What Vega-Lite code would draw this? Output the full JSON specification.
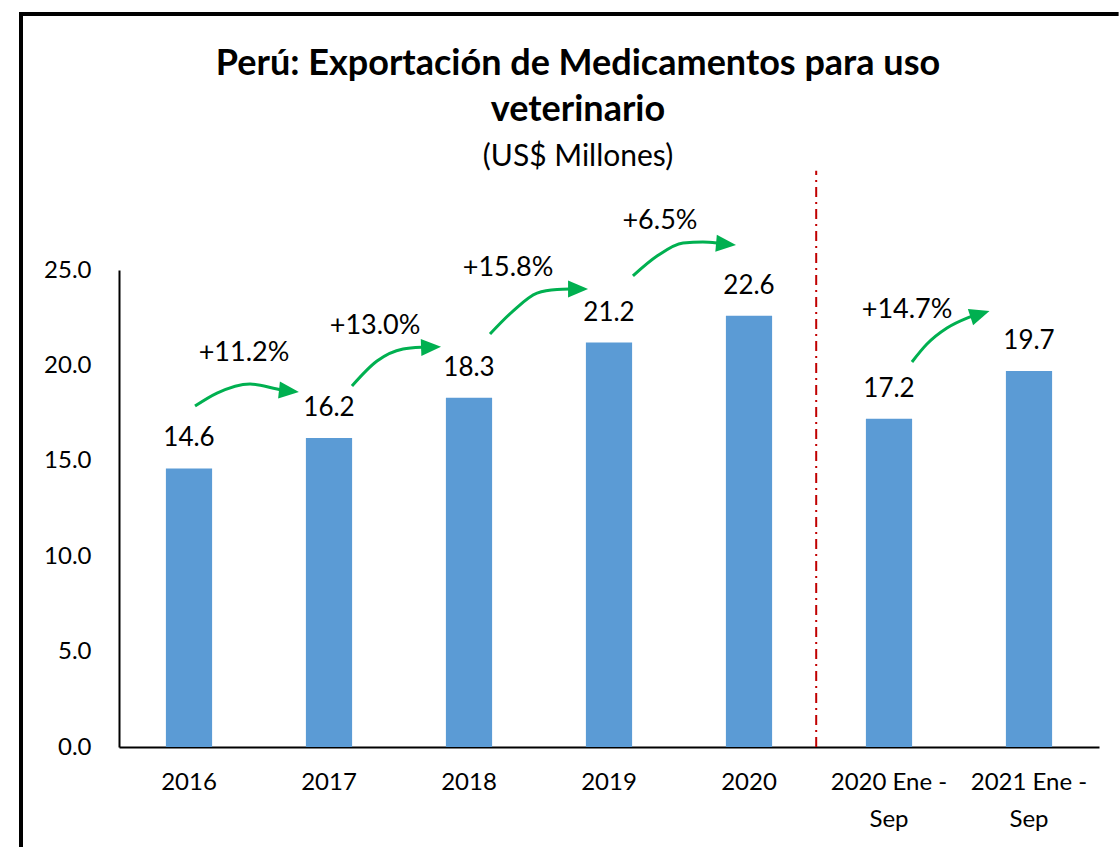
{
  "$schema": "https://vega.github.io/schema/vega-lite/v6.json",
  "width": 980,
  "height": 477,
  "padding": {"left": 19, "top": 9, "right": 0, "bottom": 0},
  "background": "white",
  "title": {
    "text": ["Perú: Exportación de Medicamentos para uso", "veterinario"],
    "subtitle": "(US$ Millones)",
    "font": "Lato",
    "fontSize": 36,
    "fontWeight": "bold",
    "lineHeight": 46,
    "color": "black",
    "subtitleFont": "Lato",
    "subtitleFontSize": 30,
    "subtitleColor": "black",
    "subtitlePadding": 13,
    "anchor": "middle",
    "frame": "group",
    "dx": -31,
    "offset": -163
  },
  "config": {
    "view": {"stroke": null},
    "font": "Lato",
    "text": {"font": "Lato"}
  },
  "datasets": {
    "bars": [
      {"cat": "2016", "value": 14.6},
      {"cat": "2017", "value": 16.2},
      {"cat": "2018", "value": 18.3},
      {"cat": "2019", "value": 21.2},
      {"cat": "2020", "value": 22.6},
      {"cat": "2020 Ene - Sep", "value": 17.2},
      {"cat": "2021 Ene - Sep", "value": 19.7}
    ],
    "arrows": [
      {"id": 1, "i": 1, "x": 0.543, "y": 17.87},
      {"id": 1, "i": 2, "x": 0.700, "y": 18.55},
      {"id": 1, "i": 3, "x": 0.936, "y": 19.03},
      {"id": 1, "i": 4, "x": 1.129, "y": 18.76},
      {"id": 1, "i": 5, "x": 1.171, "y": 18.70},
      {"id": 2, "i": 1, "x": 1.664, "y": 18.92},
      {"id": 2, "i": 2, "x": 1.843, "y": 20.23},
      {"id": 2, "i": 3, "x": 2.029, "y": 20.86},
      {"id": 2, "i": 4, "x": 2.171, "y": 20.96},
      {"id": 2, "i": 5, "x": 2.200, "y": 20.97},
      {"id": 3, "i": 1, "x": 2.650, "y": 21.65},
      {"id": 3, "i": 2, "x": 2.814, "y": 22.85},
      {"id": 3, "i": 3, "x": 2.986, "y": 23.79},
      {"id": 3, "i": 4, "x": 3.129, "y": 23.98},
      {"id": 3, "i": 5, "x": 3.221, "y": 24.00},
      {"id": 4, "i": 1, "x": 3.671, "y": 24.69},
      {"id": 4, "i": 2, "x": 3.843, "y": 25.73},
      {"id": 4, "i": 3, "x": 4.029, "y": 26.42},
      {"id": 4, "i": 4, "x": 4.171, "y": 26.47},
      {"id": 4, "i": 5, "x": 4.271, "y": 26.42},
      {"id": 5, "i": 1, "x": 5.664, "y": 20.18},
      {"id": 5, "i": 2, "x": 5.771, "y": 21.12},
      {"id": 5, "i": 3, "x": 5.914, "y": 21.96},
      {"id": 5, "i": 4, "x": 6.057, "y": 22.48},
      {"id": 5, "i": 5, "x": 6.100, "y": 22.60}
    ],
    "heads": [
      {"x": 1.214, "y": 18.66, "angle": 6},
      {"x": 2.229, "y": 20.96, "angle": -2},
      {"x": 3.279, "y": 24.00, "angle": 0},
      {"x": 4.336, "y": 26.36, "angle": 5},
      {"x": 6.150, "y": 22.69, "angle": -18}
    ],
    "pcts": [
      {"x": 0.893, "y": 20.65, "label": "+11.2%"},
      {"x": 1.829, "y": 22.06, "label": "+13.0%"},
      {"x": 2.779, "y": 25.10, "label": "+15.8%"},
      {"x": 3.864, "y": 27.57, "label": "+6.5%"},
      {"x": 5.629, "y": 22.90, "label": "+14.7%"}
    ],
    "divider": [
      {"x": 4.98, "y": 0, "y2": 30.2}
    ],
    "frame": [
      {"x": -0.7, "x2": 7.14, "y": 38.42, "y2": 38.42},
      {"x": -0.7, "x2": -0.7, "y": 38.525, "y2": -5.25}
    ]
  },
  "layer": [
    {
      "layer": [
        {
          "data": {"name": "bars"},
          "mark": {"type": "bar", "color": "#5B9BD5"},
          "encoding": {
            "x": {
              "field": "cat",
              "type": "nominal",
              "sort": null,
              "scale": {"paddingInner": 0.67, "paddingOuter": 0.335},
              "axis": {
                "title": null,
                "labelAngle": 0,
                "ticks": false,
                "domainColor": "black",
                "domainWidth": 2,
                "labelFont": "Lato",
                "labelFontSize": 24,
                "labelColor": "black",
                "labelPadding": 23,
                "labelLineHeight": 37,
                "labelExpr": "split(replace(datum.label, '- ', '-|'), '|')"
              }
            },
            "y": {
              "field": "value",
              "type": "quantitative",
              "scale": {"domain": [0, 25], "nice": false},
              "axis": {
                "title": null,
                "values": [0, 5, 10, 15, 20, 25],
                "format": ".1f",
                "ticks": false,
                "grid": false,
                "domainColor": "black",
                "domainWidth": 2,
                "labelFont": "Lato",
                "labelFontSize": 24,
                "labelColor": "black",
                "labelPadding": 28
              }
            }
          }
        },
        {
          "data": {"name": "bars"},
          "mark": {"type": "text", "fontSize": 26, "font": "Lato", "color": "black", "baseline": "middle", "dy": -30, "clip": false},
          "encoding": {
            "x": {"field": "cat", "type": "nominal", "sort": null},
            "y": {"field": "value", "type": "quantitative"},
            "text": {"field": "value", "type": "quantitative", "format": ".1f"}
          }
        }
      ]
    },
    {
      "layer": [
        {
          "data": {"name": "frame"},
          "mark": {"type": "rule", "color": "black", "strokeWidth": 4, "clip": false},
          "encoding": {
            "x": {"field": "x", "type": "quantitative", "scale": {"domain": [0, 7], "nice": false, "zero": false}, "axis": null},
            "x2": {"field": "x2"},
            "y": {"field": "y", "type": "quantitative"},
            "y2": {"field": "y2"}
          }
        },
        {
          "data": {"name": "divider"},
          "mark": {"type": "rule", "color": "#C00000", "strokeWidth": 2, "strokeDash": [10, 5, 2, 5], "clip": false},
          "encoding": {
            "x": {"field": "x", "type": "quantitative", "axis": null},
            "y": {"field": "y", "type": "quantitative"},
            "y2": {"field": "y2"}
          }
        },
        {
          "data": {"name": "arrows"},
          "mark": {"type": "line", "color": "#00B050", "strokeWidth": 3, "interpolate": "monotone", "clip": false},
          "encoding": {
            "x": {"field": "x", "type": "quantitative", "axis": null},
            "y": {"field": "y", "type": "quantitative"},
            "detail": {"field": "id", "type": "nominal"},
            "order": {"field": "i", "type": "quantitative"}
          }
        },
        {
          "data": {"name": "heads"},
          "mark": {"type": "point", "shape": "M-1,-0.85L1,0L-1,0.85Z", "filled": true, "color": "#00B050", "size": 400, "opacity": 1, "clip": false},
          "encoding": {
            "x": {"field": "x", "type": "quantitative", "axis": null},
            "y": {"field": "y", "type": "quantitative"},
            "angle": {"field": "angle", "type": "quantitative", "scale": null}
          }
        },
        {
          "data": {"name": "pcts"},
          "mark": {"type": "text", "fontSize": 27, "font": "Lato", "color": "black", "baseline": "middle", "clip": false},
          "encoding": {
            "x": {"field": "x", "type": "quantitative", "axis": null},
            "y": {"field": "y", "type": "quantitative"},
            "text": {"field": "label", "type": "nominal"}
          }
        }
      ]
    }
  ],
  "resolve": {"scale": {"x": "independent"}}
}
